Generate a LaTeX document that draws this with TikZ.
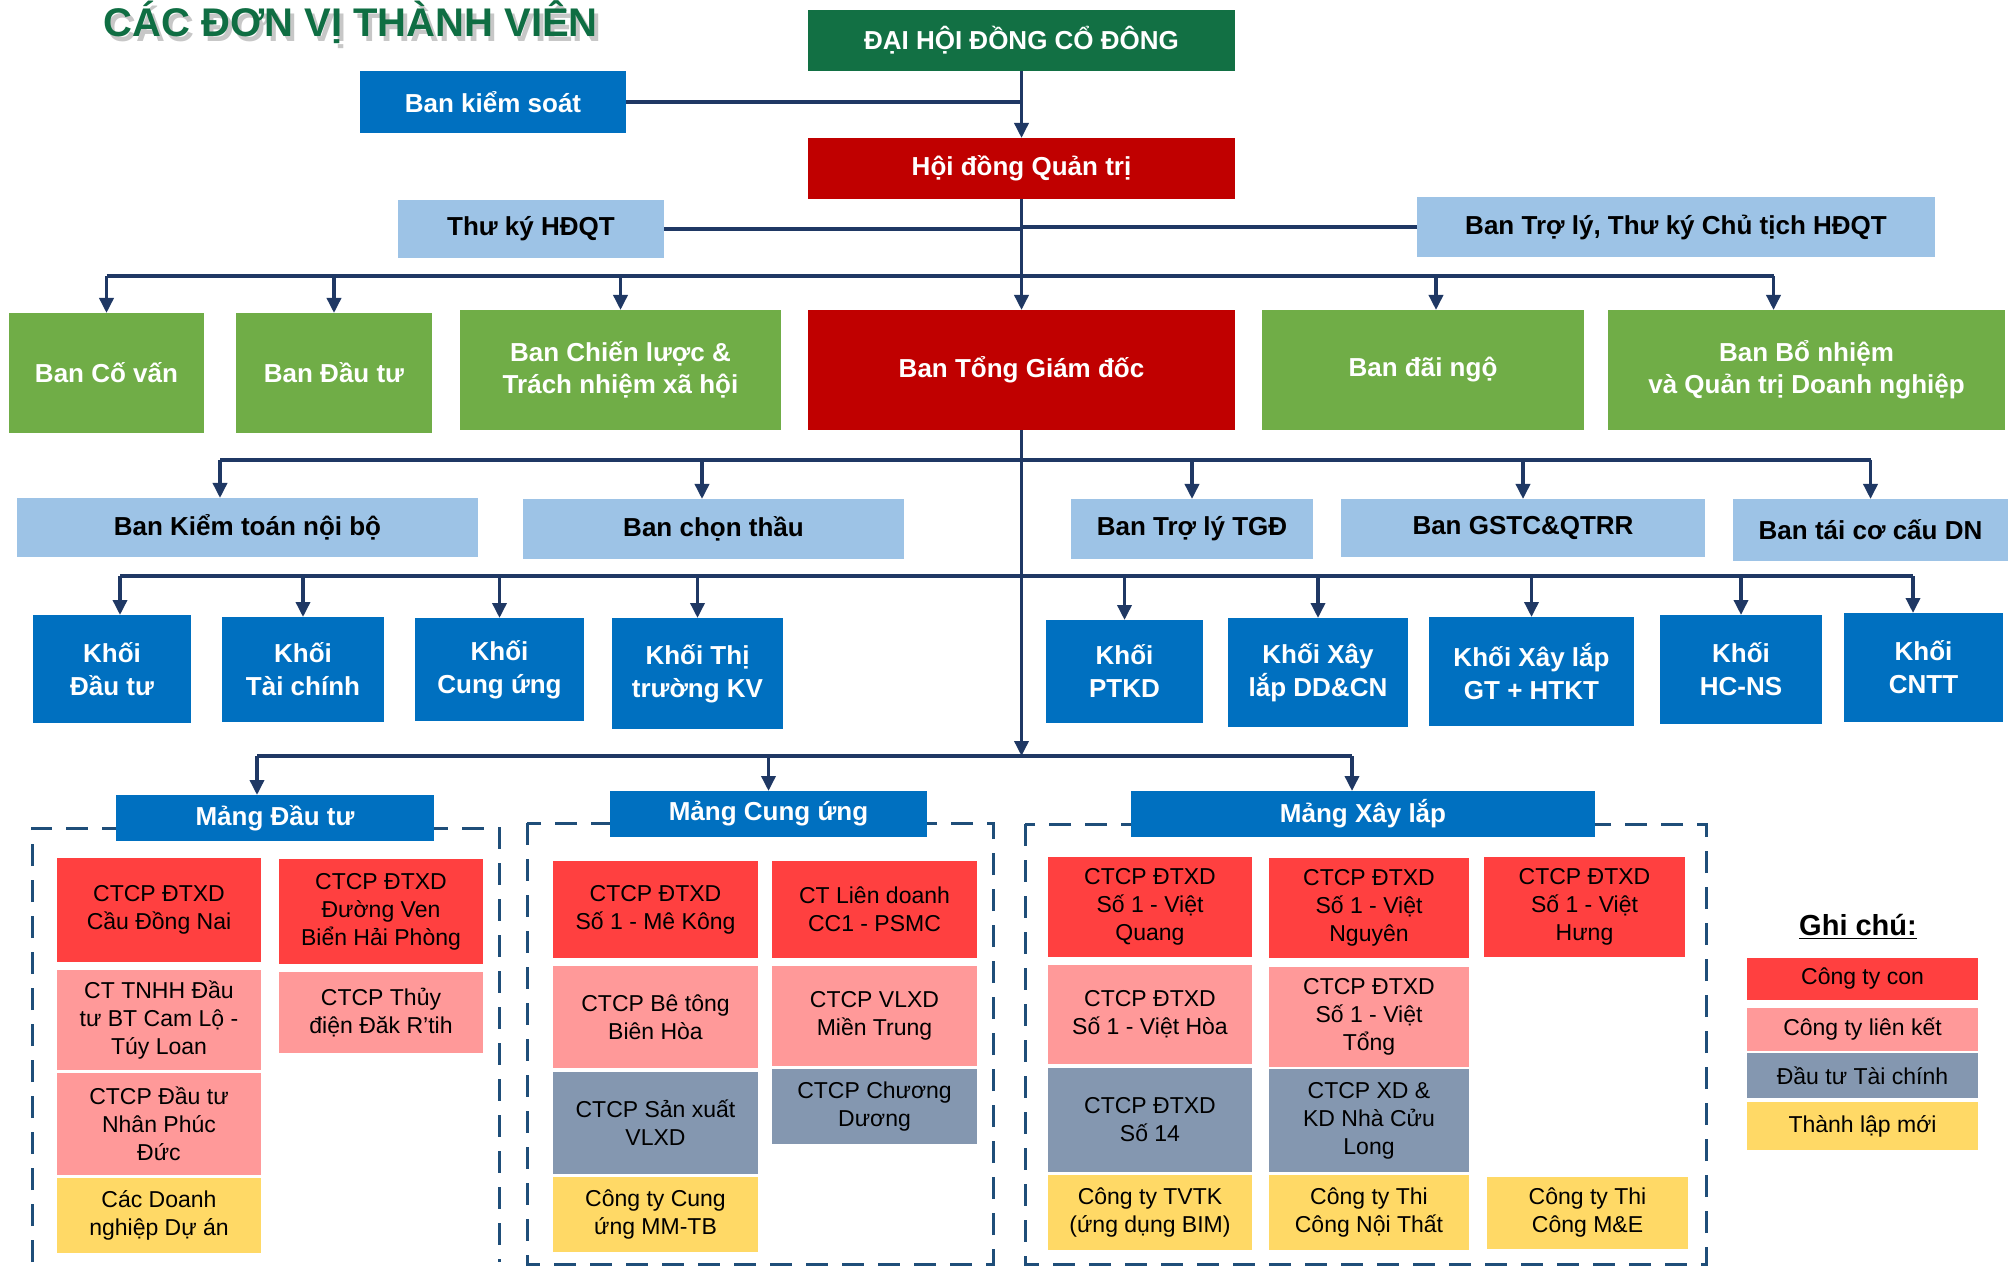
\documentclass[tikz,border=0pt]{standalone}
\usepackage{fontspec}
\setmainfont{Liberation Sans}
\usetikzlibrary{arrows.meta}

\definecolor{cdkgreen}{HTML}{127044}
\definecolor{ctitle}{HTML}{0F6E43}
\definecolor{cdred}{HTML}{C00000}
\definecolor{cgreen}{HTML}{70AD47}
\definecolor{cblue}{HTML}{0070C0}
\definecolor{clblue}{HTML}{9DC3E6}
\definecolor{cred}{HTML}{FF4040}
\definecolor{cpink}{HTML}{FF9999}
\definecolor{cgray}{HTML}{8497B0}
\definecolor{cyellow}{HTML}{FFD966}
\definecolor{cline}{HTML}{1F3864}
\definecolor{cdash}{HTML}{1F4E79}

\tikzset{every picture/.style={line width=0.75pt}}
\tikzset{
  box/.style={inner sep=0pt, outer sep=0pt, align=center, font=\bfseries\fontsize{13}{16}\selectfont},
  khoi/.style={box, fill=cblue, text=white, font=\bfseries\fontsize{13}{16.5}\selectfont},
  unit/.style={inner sep=0pt, outer sep=0pt, align=center, text=black, font=\fontsize{11.5}{14}\selectfont},
  ttl/.style={anchor=base west, inner sep=0pt, font=\bfseries\fontsize{20}{24}\selectfont},
  conn/.style={draw=cline, line width=1.75pt},
  arr/.style={conn, -{Triangle[length=7.5pt,width=7pt]}},
  frame/.style={draw=cdash, line width=1.5pt, dash pattern=on 11pt off 7pt},
}

\begin{document}
\begin{tikzpicture}[x=0.5pt,y=0.5pt,yscale=-1,xscale=1]
\useasboundingbox (0,0) rectangle (2008,1267);

% Title
\node[ttl, text=black, opacity=0.22] (tshadow) at (107,42) {CÁC ĐƠN VỊ THÀNH VIÊN};
\node[ttl, text=ctitle] (title) at (103,37) {CÁC ĐƠN VỊ THÀNH VIÊN};

%Shape: Rectangle - top
\node[box, fill=cdkgreen, text=white, minimum width=213.5pt, minimum height=30.5pt] (dhcd) at (1021.5,40.5) {ĐẠI HỘI ĐỒNG CỔ ĐÔNG};
\node[box, fill=cblue, text=white, minimum width=133pt, minimum height=31pt] (bks) at (493,102) {Ban kiểm soát};
\node[box, fill=cdred, text=white, minimum width=213.5pt, minimum height=30.5pt] (hdqt) at (1021.5,168.5) {Hội đồng Quản trị};
\node[box, fill=clblue, minimum width=133pt, minimum height=29pt] (tkhdqt) at (531,229) {Thư ký HĐQT};
\node[box, fill=clblue, minimum width=259pt, minimum height=30pt] (tlct) at (1676,227) {Ban Trợ lý, Thư ký Chủ tịch HĐQT};

%Shape: Rectangle - green row
\node[box, fill=cgreen, text=white, minimum width=97.5pt, minimum height=60pt] (bcv) at (106.5,373) {Ban Cố vấn};
\node[box, fill=cgreen, text=white, minimum width=98pt, minimum height=60pt] (bdt) at (334,373) {Ban Đầu tư};
\node[box, fill=cgreen, text=white, minimum width=160.5pt, minimum height=60pt] (bcl) at (620.5,370) {Ban Chiến lược \&\\Trách nhiệm xã hội};
\node[box, fill=cdred, text=white, minimum width=213.5pt, minimum height=60pt] (btgd) at (1021.5,370) {Ban Tổng Giám đốc};
\node[box, fill=cgreen, text=white, minimum width=161pt, minimum height=60pt] (bdn) at (1423,370) {Ban đãi ngộ};
\node[box, fill=cgreen, text=white, minimum width=198.5pt, minimum height=60pt] (bbn) at (1806.5,370) {Ban Bổ nhiệm\\và Quản trị Doanh nghiệp};

%Shape: Rectangle - light blue row
\node[box, fill=clblue, minimum width=230.5pt, minimum height=29.5pt] (bktnb) at (247.5,527.5) {Ban Kiểm toán nội bộ};
\node[box, fill=clblue, minimum width=190.5pt, minimum height=30pt] (bct) at (713.5,529) {Ban chọn thầu};
\node[box, fill=clblue, minimum width=121pt, minimum height=30pt] (btltgd) at (1192,529) {Ban Trợ lý TGĐ};
\node[box, fill=clblue, minimum width=182pt, minimum height=29pt] (bgstc) at (1523,528) {Ban GSTC\&QTRR};
\node[box, fill=clblue, minimum width=137.5pt, minimum height=31pt] (btccdn) at (1870.5,530) {Ban tái cơ cấu DN};

%Shape: Rectangle - khoi row
\node[khoi, minimum width=79pt, minimum height=54pt] (kdt) at (112,669) {Khối\\Đầu tư};
\node[khoi, minimum width=81pt, minimum height=52.5pt] (ktc) at (303,669.5) {Khối\\Tài chính};
\node[khoi, minimum width=84.5pt, minimum height=51.5pt] (kcu) at (499.5,669.5) {Khối\\Cung ứng};
\node[khoi, minimum width=85.5pt, minimum height=55.5pt] (kttkv) at (697.5,673.5) {Khối Thị\\trường KV};
\node[khoi, minimum width=78.5pt, minimum height=51.5pt] (kptkd) at (1124.5,671.5) {Khối\\PTKD};
\node[khoi, minimum width=90pt, minimum height=54.5pt] (kxldd) at (1318,672.5) {Khối Xây\\lắp DD\&CN};
\node[khoi, minimum width=102.5pt, minimum height=54.5pt] (kxlgt) at (1531.5,671.5) {Khối Xây lắp\\GT + HTKT};
\node[khoi, minimum width=81pt, minimum height=54.5pt] (khcns) at (1741,669.5) {Khối\\HC-NS};
\node[khoi, minimum width=79.5pt, minimum height=54.5pt] (kcntt) at (1923.5,667.5) {Khối\\CNTT};

%Dashed frames
\draw[frame] (32,1262) -- (32,828) -- (499,828) -- (499,1262);
\draw[frame] (527,823) rectangle (993,1264);
\draw[frame] (1025,824) rectangle (1706,1264);

%Shape: Rectangle - headers
\node[box, fill=cblue, text=white, minimum width=159pt, minimum height=23pt] (mdt) at (275,818) {Mảng Đầu tư};
\node[box, fill=cblue, text=white, minimum width=158.5pt, minimum height=23pt] (mcu) at (768.5,814) {Mảng Cung ứng};
\node[box, fill=cblue, text=white, minimum width=232pt, minimum height=23pt] (mxl) at (1363,814) {Mảng Xây lắp};

%Shape: Rectangle - Mang Dau tu
\node[unit, fill=cred, minimum width=102pt, minimum height=52pt] (dt1) at (159,910) {CTCP ĐTXD\\Cầu Đồng Nai};
\node[unit, fill=cpink, minimum width=102pt, minimum height=50pt] (dt2) at (159,1020) {CT TNHH Đầu\\tư BT Cam Lộ -\\Túy Loan};
\node[unit, fill=cpink, minimum width=102pt, minimum height=51pt] (dt3) at (159,1124) {CTCP Đầu tư\\Nhân Phúc\\Đức};
\node[unit, fill=cyellow, minimum width=102pt, minimum height=37.5pt] (dt4) at (159,1215.5) {Các Doanh\\nghiệp Dự án};
\node[unit, fill=cred, minimum width=102pt, minimum height=52.5pt] (dt5) at (381,911.5) {CTCP ĐTXD\\Đường Ven\\Biển Hải Phòng};
\node[unit, fill=cpink, minimum width=102pt, minimum height=40.5pt] (dt6) at (381,1012.5) {CTCP Thủy\\điện Đăk R’tih};

%Shape: Rectangle - Mang Cung ung
\node[unit, fill=cred, minimum width=102.5pt, minimum height=48.5pt] (cu1) at (655.5,909.5) {CTCP ĐTXD\\Số 1 - Mê Kông};
\node[unit, fill=cpink, minimum width=102.5pt, minimum height=51pt] (cu2) at (655.5,1017) {CTCP Bê tông\\Biên Hòa};
\node[unit, fill=cgray, minimum width=102.5pt, minimum height=51pt] (cu3) at (655.5,1123) {CTCP Sản xuất\\VLXD};
\node[unit, fill=cyellow, minimum width=102.5pt, minimum height=37.5pt] (cu4) at (655.5,1214.5) {Công ty Cung\\ứng MM-TB};
\node[unit, fill=cred, minimum width=102.5pt, minimum height=48.5pt] (cu5) at (874.5,909.5) {CT Liên doanh\\CC1 - PSMC};
\node[unit, fill=cpink, minimum width=102.5pt, minimum height=50pt] (cu6) at (874.5,1016) {CTCP VLXD\\Miền Trung};
\node[unit, fill=cgray, minimum width=102.5pt, minimum height=37.5pt] (cu7) at (874.5,1106.5) {CTCP Chương\\Dương};

%Shape: Rectangle - Mang Xay lap
\node[unit, fill=cred, minimum width=102pt, minimum height=50pt] (xl1) at (1150,907) {CTCP ĐTXD\\Số 1 - Việt\\Quang};
\node[unit, fill=cpink, minimum width=102pt, minimum height=49.5pt] (xl2) at (1150,1014.5) {CTCP ĐTXD\\Số 1 - Việt Hòa};
\node[unit, fill=cgray, minimum width=102pt, minimum height=52pt] (xl3) at (1150,1120) {CTCP ĐTXD\\Số 14};
\node[unit, fill=cyellow, minimum width=102pt, minimum height=37.5pt] (xl4) at (1150,1212.5) {Công ty TVTK\\(ứng dụng BIM)};
\node[unit, fill=cred, minimum width=100pt, minimum height=50pt] (xl5) at (1369,908) {CTCP ĐTXD\\Số 1 - Việt\\Nguyên};
\node[unit, fill=cpink, minimum width=100pt, minimum height=50pt] (xl6) at (1369,1017) {CTCP ĐTXD\\Số 1 - Việt\\Tổng};
\node[unit, fill=cgray, minimum width=100pt, minimum height=51.5pt] (xl7) at (1369,1120.5) {CTCP XD \&\\KD Nhà Cửu\\Long};
\node[unit, fill=cyellow, minimum width=100pt, minimum height=37.5pt] (xl8) at (1369,1212.5) {Công ty Thi\\Công Nội Thất};
\node[unit, fill=cred, minimum width=100.5pt, minimum height=50pt] (xl9) at (1584.5,907) {CTCP ĐTXD\\Số 1 - Việt\\Hưng};
\node[unit, fill=cyellow, minimum width=100.5pt, minimum height=36pt] (xl10) at (1587.5,1213) {Công ty Thi\\Công M\&E};

%Legend
\node[inner sep=0pt, font=\bfseries\fontsize{14.5}{17}\selectfont] (gc) at (1858,927) {\underline{Ghi chú:}};
\node[unit, fill=cred, minimum width=115.5pt, minimum height=21pt] (lg1) at (1862.5,979) {Công ty con};
\node[unit, fill=cpink, minimum width=115.5pt, minimum height=21.5pt] (lg2) at (1862.5,1029.5) {Công ty liên kết};
\node[unit, fill=cgray, minimum width=115.5pt, minimum height=22.5pt] (lg3) at (1862.5,1075.5) {Đầu tư Tài chính};
\node[unit, fill=cyellow, minimum width=115.5pt, minimum height=24pt] (lg4) at (1862.5,1126) {Thành lập mới};

% arrow entry points
\coordinate (bdnin) at ([xshift=6.5pt]bdn.north);
\coordinate (bbnin) at ([xshift=-16.5pt]bbn.north);
\coordinate (bktnbin) at ([xshift=-13.75pt]bktnb.north);
\coordinate (bctin) at ([xshift=-5.75pt]bct.north);
\coordinate (kdtin) at ([xshift=4pt]kdt.north);
\coordinate (kcnttin) at ([xshift=-5.25pt]kcntt.north);
\coordinate (mdtin) at ([xshift=-9pt]mdt.north);
\coordinate (mxlin) at ([xshift=-5.5pt]mxl.north);

%Straight Lines - top
\draw[arr] (dhcd.south) -- (hdqt.north);
\draw[conn] (bks.east) -- (bks.east -| dhcd.south);
\draw[arr] (hdqt.south) -- (btgd.north);
\draw[conn] (tkhdqt.east) -- (tkhdqt.east -| hdqt.south);
\draw[conn] (tlct.west) -- (tlct.west -| hdqt.south);

%Straight Lines - bus 1
\coordinate (bus1) at (0,276);
\draw[conn] (bcv.north |- bus1) -- (bbnin |- bus1);
\draw[arr] (bcv.north |- bus1) -- (bcv.north);
\draw[arr] (bdt.north |- bus1) -- (bdt.north);
\draw[arr] (bcl.north |- bus1) -- (bcl.north);
\draw[arr] (bdnin |- bus1) -- (bdnin);
\draw[arr] (bbnin |- bus1) -- (bbnin);

%Straight Lines - trunk
\coordinate (bus4) at (0,756);
\draw[arr] (btgd.south) -- (btgd.south |- bus4);

%Straight Lines - bus 2
\coordinate (bus2) at (0,460);
\draw[conn] (bktnbin |- bus2) -- (btccdn.north |- bus2);
\draw[arr] (bktnbin |- bus2) -- (bktnbin);
\draw[arr] (bctin |- bus2) -- (bctin);
\draw[arr] (btltgd.north |- bus2) -- (btltgd.north);
\draw[arr] (bgstc.north |- bus2) -- (bgstc.north);
\draw[arr] (btccdn.north |- bus2) -- (btccdn.north);

%Straight Lines - bus 3
\coordinate (bus3) at (0,576);
\draw[conn] (kdtin |- bus3) -- (kcnttin |- bus3);
\draw[arr] (kdtin |- bus3) -- (kdtin);
\draw[arr] (ktc.north |- bus3) -- (ktc.north);
\draw[arr] (kcu.north |- bus3) -- (kcu.north);
\draw[arr] (kttkv.north |- bus3) -- (kttkv.north);
\draw[arr] (kptkd.north |- bus3) -- (kptkd.north);
\draw[arr] (kxldd.north |- bus3) -- (kxldd.north);
\draw[arr] (kxlgt.north |- bus3) -- (kxlgt.north);
\draw[arr] (khcns.north |- bus3) -- (khcns.north);
\draw[arr] (kcnttin |- bus3) -- (kcnttin);

%Straight Lines - bus 4
\draw[conn] (mdtin |- bus4) -- (mxlin |- bus4);
\draw[arr] (mdtin |- bus4) -- (mdtin);
\draw[arr] (mcu.north |- bus4) -- (mcu.north);
\draw[arr] (mxlin |- bus4) -- (mxlin);

\end{tikzpicture}
\end{document}
